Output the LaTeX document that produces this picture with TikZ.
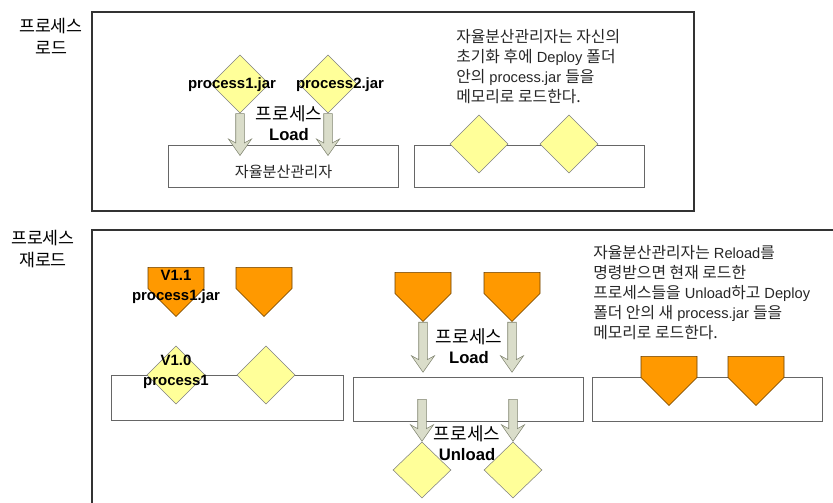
\documentclass[tikz,border=0pt]{standalone}
\usepackage{fontspec}
\setmainfont{Liberation Sans}
\newfontfamily\kr[Scale=1.08]{Noto Sans CJK KR}
\usetikzlibrary{shapes.geometric,shapes.symbols,shapes.arrows}
\definecolor{jarfill}{RGB}{255,255,153}
\definecolor{newfill}{RGB}{255,153,0}
\definecolor{arrfill}{RGB}{218,221,202}
\definecolor{arrline}{RGB}{128,132,112}

\begin{document}
\begin{tikzpicture}[x=0.75pt,y=-0.75pt,
    frame/.style={draw=black!80, line width=0.9pt},
    mgrbox/.style={draw=black!60, line width=0.9pt, anchor=north west, inner sep=0,
      minimum width=172.5pt, minimum height=33pt},
    jar/.style={diamond, draw=black!50, fill=jarfill, inner sep=0,
      minimum width=43.5pt, minimum height=43.5pt},
    newjar/.style={signal, signal to=south, signal from=nowhere, anchor=north,
      draw=black!60!newfill, fill=newfill, inner sep=0,
      minimum width=42pt, minimum height=16pt},
    loadarrow/.style={single arrow, shape border rotate=270, draw=arrline, fill=arrfill,
      inner sep=3pt, single arrow head extend=5.5pt, single arrow tip angle=70,
      single arrow head indent=3pt, minimum height=31.5pt},
    jarname/.style={font=\bfseries\fontsize{11.2pt}{15pt}\selectfont, align=center, inner sep=0},
    step name/.style={font=\fontsize{12.5pt}{15.5pt}\selectfont, align=center, inner sep=0},
    section/.style={font=\kr\fontsize{12pt}{16.5pt}\selectfont, align=center, inner sep=0},
    note/.style={font=\fontsize{11pt}{15pt}\selectfont, text=black!85, align=left,
      anchor=north west, inner sep=0}]
  \useasboundingbox (0,0) rectangle (833,503);

  % process load
  \draw[frame] (92,12) rectangle (694,211);
  \node[section] (load label) at (51,36) {프로세스\\로드};
  \node[mgrbox, minimum height=31.5pt] (mgr) at (168,145) {};
  \node[font=\kr\fontsize{10.5pt}{13pt}\selectfont, text=black!85] (mgr text)
    at ([yshift=-4pt]mgr.center) {자율분산관리자};
  \node[mgrbox, minimum height=31.5pt] (mgr loaded) at (414,145) {};
  \node[jar] (p1) at (240,84) {};
  \node[jar] (p2) at (328,84) {};
  \node[jar] (l1) at (479,144) {};
  \node[jar] (l2) at (569,144) {};
  \node[loadarrow, anchor=tail] (a1) at (p1.south) {};
  \node[loadarrow, anchor=tail] (a2) at (p2.south) {};
  \node[jarname] at (232,85) {process1.jar};
  \node[jarname] at (340,85) {process2.jar};
  \node[step name] (load step) at (289,123) {{\kr 프로세스}\\\textbf{Load}};
  \node[note] (load note) at (456,29) {{\kr 자율분산관리자는 자신의}\\
    {\kr 초기화 후에} Deploy {\kr 폴더}\\
    {\kr 안의} process.jar {\kr 들을}\\
    {\kr 메모리로 로드한다.}};

  % process reload
  \draw[frame] (92,503) -- (92,230) -- (833,230);
  \node[section] (reload label) at (43,249) {프로세스\\재로드};
  \node[mgrbox, minimum width=174pt, minimum height=33.75pt] (mgr old) at (111,375) {};
  \node[mgrbox] (mgr mid) at (353,377) {};
  \node[mgrbox] (mgr new) at (592,377) {};
  \node[jar] (o1) at (176,375) {};
  \node[jar] (o2) at (266,375) {};
  \node[newjar] (n1) at (176,267) {};
  \node[newjar] (n2) at (264,267) {};
  \node[newjar] (m1) at (423,272) {};
  \node[newjar] (m2) at (512,272) {};
  \node[newjar] (r1) at (669,356) {};
  \node[newjar] (r2) at (756,356) {};
  \node[jar, minimum height=42pt] (u1) at (422,470) {};
  \node[jar, minimum height=42pt] (u2) at (513,470) {};
  \node[loadarrow, anchor=tail, minimum height=37.5pt] (b1) at (m1.south) {};
  \node[loadarrow, anchor=tail, minimum height=37.5pt] (b2) at (m2.south) {};
  \node[loadarrow, anchor=tip] (c1) at (u1.north) {};
  \node[loadarrow, anchor=tip] (c2) at (u2.north) {};
  \node[jarname] at (176,287) {V1.1\\process1.jar};
  \node[jarname] at (176,372) {V1.0\\process1};
  \node[step name] (reload step) at (469,346) {{\kr 프로세스}\\\textbf{Load}};
  \node[step name] (unload step) at (467,443) {{\kr 프로세스}\\\textbf{Unload}};
  \node[note] (reload note) at (593,245) {{\kr 자율분산관리자는} Reload{\kr 를}\\
    {\kr 명령받으면 현재 로드한}\\
    {\kr 프로세스들을} Unload{\kr 하고} Deploy\\
    {\kr 폴더 안의 새} process.jar {\kr 들을}\\
    {\kr 메모리로 로드한다.}};
\end{tikzpicture}
\end{document}
